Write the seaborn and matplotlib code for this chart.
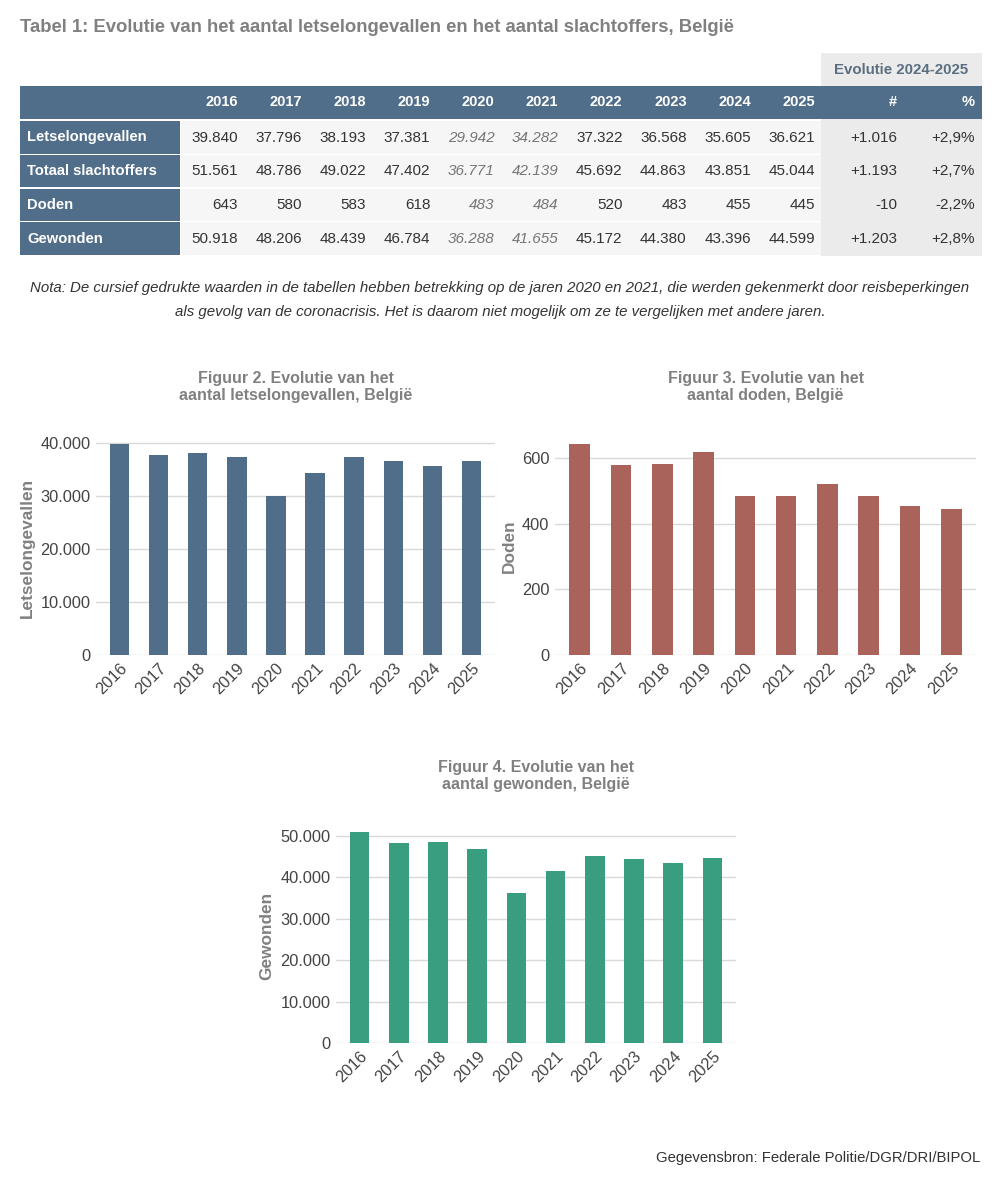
import numpy as np
import pandas as pd
import matplotlib
matplotlib.use("Agg")
import matplotlib.pyplot as plt
import seaborn as sns
from matplotlib.patches import Rectangle
from matplotlib.ticker import FuncFormatter

# gegevens
years = [2016, 2017, 2018, 2019, 2020, 2021, 2022, 2023, 2024, 2025]
letsel = [39840, 37796, 38193, 37381, 29942, 34282, 37322, 36568, 35605, 36621]
slachtoffers = [51561, 48786, 49022, 47402, 36771, 42139, 45692, 44863, 43851, 45044]
doden = [643, 580, 583, 618, 483, 484, 520, 483, 455, 445]
gewonden = [50918, 48206, 48439, 46784, 36288, 41655, 45172, 44380, 43396, 44599]
row_labels = ["Letselongevallen", "Totaal slachtoffers", "Doden", "Gewonden"]
evol_abs = ["+1.016", "+1.193", "-10", "+1.203"]
evol_pct = ["+2,9%", "+2,7%", "-2,2%", "+2,8%"]
covid_years = [2020, 2021]

BLUE = "#506e89"
RED = "#a9635a"
GREEN = "#389e7f"
GREY_T = "#808080"
TXT = "#333333"

sns.set_theme(style="white")
plt.rcParams["font.family"] = ["Liberation Sans", "DejaVu Sans"]

W, H = 1000, 1185
fig = plt.figure(figsize=(W / 100, H / 100), dpi=100)
fig.patch.set_facecolor("white")


def fmt(v):
    return f"{v:,}".replace(",", ".")


# ---- tabel in pixelcoördinaten ----
tab = fig.add_axes([0, 0, 1, 1])
tab.set_xlim(0, W)
tab.set_ylim(H, 0)
tab.axis("off")

tab.text(20, 27, "Tabel 1: Evolutie van het aantal letselongevallen en het aantal slachtoffers, België",
         fontsize=13.3, fontweight="bold", color=GREY_T, va="center", ha="left")

# grijs blok evolutie
tab.add_patch(Rectangle((821, 53), 161, 203, color="#ebebeb", lw=0))
tab.text(901, 70, "Evolutie 2024-2025", fontsize=10.8, fontweight="bold", color="#5a6e80",
         ha="center", va="center")
# kopregel
tab.add_patch(Rectangle((20, 86), 962, 33, color=BLUE, lw=0))
col_right = [238 + i * 64.1 for i in range(len(years))]
for x, y in zip(col_right, years):
    tab.text(x, 102.5, str(y), fontsize=10.5, fontweight="bold", color="white", ha="right", va="center")
tab.text(897, 102.5, "#", fontsize=10.5, fontweight="bold", color="white", ha="right", va="center")
tab.text(975, 102.5, "%", fontsize=10.5, fontweight="bold", color="white", ha="right", va="center")

rows = [letsel, slachtoffers, doden, gewonden]
for r, (lab, vals) in enumerate(zip(row_labels, rows)):
    y0 = 121 + r * 33.8
    yc = y0 + 16.5
    tab.add_patch(Rectangle((20, y0), 160, 32.5, color=BLUE, lw=0))
    tab.add_patch(Rectangle((181, y0), 640, 32.5, color="#f6f6f6", lw=0))
    tab.add_patch(Rectangle((821, y0), 161, 32.5, color="#ebebeb", lw=0))
    tab.text(27, yc, lab, fontsize=10.6, fontweight="bold", color="white", ha="left", va="center")
    for x, yr, v in zip(col_right, years, vals):
        ital = yr in covid_years
        tab.text(x, yc, fmt(v), fontsize=11, color="#777777" if ital else TXT,
                 style="italic" if ital else "normal", ha="right", va="center")
    tab.text(897, yc, evol_abs[r], fontsize=11, color=TXT, ha="right", va="center")
    tab.text(975, yc, evol_pct[r], fontsize=11, color=TXT, ha="right", va="center")

tab.text(500, 288, "Nota: De cursief gedrukte waarden in de tabellen hebben betrekking op de jaren 2020 en 2021, "
         "die werden gekenmerkt door reisbeperkingen", fontsize=10.8, style="italic", color=TXT,
         ha="center", va="center")
tab.text(500, 312, "als gevolg van de coronacrisis. Het is daarom niet mogelijk om ze te vergelijken met andere jaren.",
         fontsize=10.8, style="italic", color=TXT, ha="center", va="center")

tab.text(980, 1158, "Gegevensbron: Federale Politie/DGR/DRI/BIPOL", fontsize=10.75, color=TXT,
         ha="right", va="center")


# ---- grafieken ----
def chart(left, right, bottom, top, values, color, ylabel, ymax, step, title, title_y):
    ax = fig.add_axes([left / W, 1 - bottom / H, (right - left) / W, (bottom - top) / H])
    df = pd.DataFrame({"jaar": [str(y) for y in years], "waarde": values})
    sns.barplot(data=df, x="jaar", y="waarde", color=color, saturation=1, width=0.5,
                edgecolor="none", ax=ax, zorder=3)
    ax.set_xlim(-0.6, 9.6)
    ax.set_ylim(0, ymax)
    ax.set_yticks(np.arange(0, ymax, step))
    ax.yaxis.set_major_formatter(FuncFormatter(lambda v, p: fmt(int(v))))
    ax.grid(axis="y", color="#d9d9d9", lw=1, zorder=0)
    ax.grid(axis="x", visible=False)
    for s in ax.spines.values():
        s.set_visible(False)
    ax.tick_params(axis="both", length=0, labelsize=11.8, labelcolor="#444444", pad=4)
    plt.setp(ax.get_xticklabels(), rotation=45, ha="right", rotation_mode="anchor")
    ax.set_xlabel("")
    ax.set_ylabel(ylabel, fontsize=12.4, fontweight="bold", color=GREY_T, labelpad=4)
    fig.text((left + right) / 2 / W, 1 - title_y / H, title, fontsize=11.5, fontweight="bold",
             color=GREY_T, ha="center", va="center", linespacing=1.15)
    return ax


chart(96, 495, 655, 655 - 212 * 40500 / 40000, letsel, BLUE, "Letselongevallen", 40500, 10000,
      "Figuur 2. Evolutie van het\naantal letselongevallen, België", 387)
chart(555, 976, 655, 655 - 197 * 660 / 600, doden, RED, "Doden", 660, 200,
      "Figuur 3. Evolutie van het\naantal doden, België", 387)
chart(336, 736, 1043, 1043 - 207 * 51500 / 50000, gewonden, GREEN, "Gewonden", 51500, 10000,
      "Figuur 4. Evolutie van het\naantal gewonden, België", 776)

fig.savefig("out.png", dpi=100, facecolor="white")
